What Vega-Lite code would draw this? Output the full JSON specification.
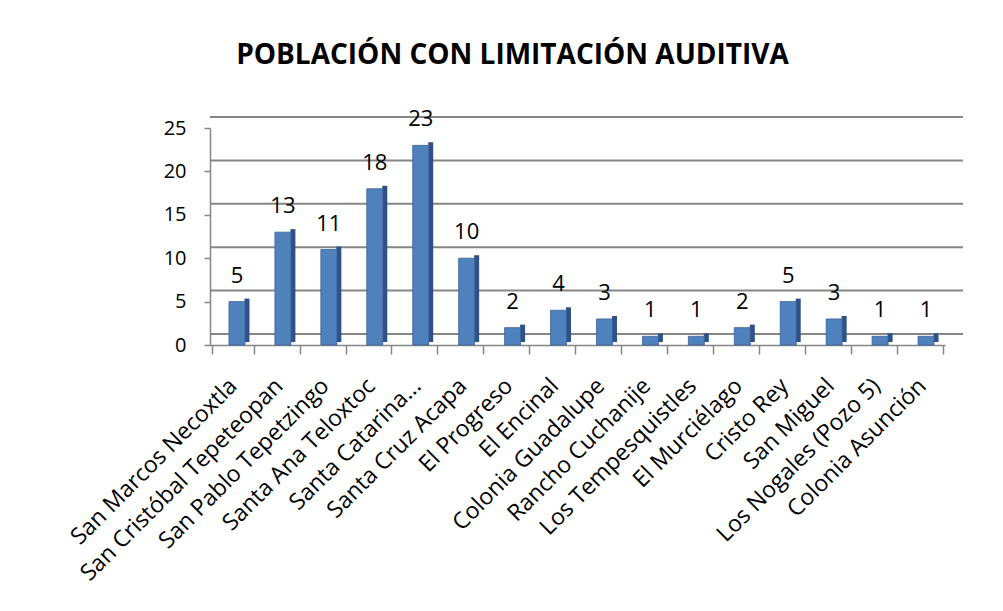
{
  "$schema": "https://vega.github.io/schema/vega-lite/v6.json",
  "autosize": "none",
  "width": 735,
  "height": 217,
  "padding": {"left": 210, "top": 128, "right": 58, "bottom": 266},
  "background": "white",
  "title": {
    "text": "POBLACIÓN CON LIMITACIÓN AUDITIVA",
    "font": "Open Sans",
    "fontSize": 28,
    "fontWeight": "bold",
    "color": "#000000",
    "anchor": "middle",
    "dx": -65,
    "offset": 38
  },
  "data": {
    "values": [
      {"localidad": "San Marcos Necoxtla", "n": 5},
      {"localidad": "San Cristóbal Tepeteopan", "n": 13},
      {"localidad": "San Pablo Tepetzingo", "n": 11},
      {"localidad": "Santa Ana Teloxtoc", "n": 18},
      {"localidad": "Santa Catarina...", "n": 23},
      {"localidad": "Santa Cruz Acapa", "n": 10},
      {"localidad": "El Progreso", "n": 2},
      {"localidad": "El Encinal", "n": 4},
      {"localidad": "Colonia Guadalupe", "n": 3},
      {"localidad": "Rancho Cuchanije", "n": 1},
      {"localidad": "Los Tempesquistles", "n": 1},
      {"localidad": "El Murciélago", "n": 2},
      {"localidad": "Cristo Rey", "n": 5},
      {"localidad": "San Miguel", "n": 3},
      {"localidad": "Los Nogales (Pozo 5)", "n": 1},
      {"localidad": "Colonia Asunción", "n": 1}
    ]
  },
  "encoding": {
    "x": {
      "field": "localidad",
      "type": "nominal",
      "sort": null,
      "title": null,
      "axis": {
        "labelAngle": -45,
        "labelAlign": "right",
        "labelBaseline": "middle",
        "labelFont": "Open Sans",
        "labelFontSize": 23,
        "labelColor": "#000000",
        "labelPadding": 28,
        "labelOverlap": false,
        "labelLimit": 400,
        "tickBand": "extent",
        "tickColor": "#868686",
        "tickSize": 9,
        "tickWidth": 1.5,
        "domainColor": "#868686",
        "domainWidth": 1.5,
        "grid": false
      }
    },
    "y": {
      "field": "n",
      "type": "quantitative",
      "scale": {"domain": [0, 25]},
      "title": null,
      "axis": {
        "values": [0, 5, 10, 15, 20, 25],
        "labelFont": "Open Sans",
        "labelFontSize": 20,
        "labelColor": "#000000",
        "labelPadding": 18,
        "tickColor": "#868686",
        "tickSize": 6,
        "tickWidth": 1.5,
        "domainColor": "#868686",
        "domainWidth": 1.5,
        "grid": false
      }
    }
  },
  "layer": [
    {
      "data": {"values": [{"v": 0}, {"v": 5}, {"v": 10}, {"v": 15}, {"v": 20}, {"v": 25}]},
      "mark": {"type": "rule", "color": "#868686", "strokeWidth": 2, "yOffset": -11, "xOffset": 18},
      "encoding": {"x": null, "y": {"field": "v", "type": "quantitative"}}
    },
    {
      "mark": {"type": "bar", "size": 5, "color": "#2E5287", "xOffset": 14, "yOffset": -3}
    },
    {
      "mark": {"type": "bar", "size": 16, "color": "#4F81BD", "stroke": "#3A6298", "strokeWidth": 0.8, "xOffset": 4}
    },
    {
      "mark": {"type": "text", "font": "Open Sans", "fontSize": 22, "color": "#000000", "baseline": "bottom", "dy": -14, "xOffset": 4},
      "encoding": {"text": {"field": "n", "type": "quantitative"}}
    }
  ],
  "config": {"view": {"stroke": null}}
}
